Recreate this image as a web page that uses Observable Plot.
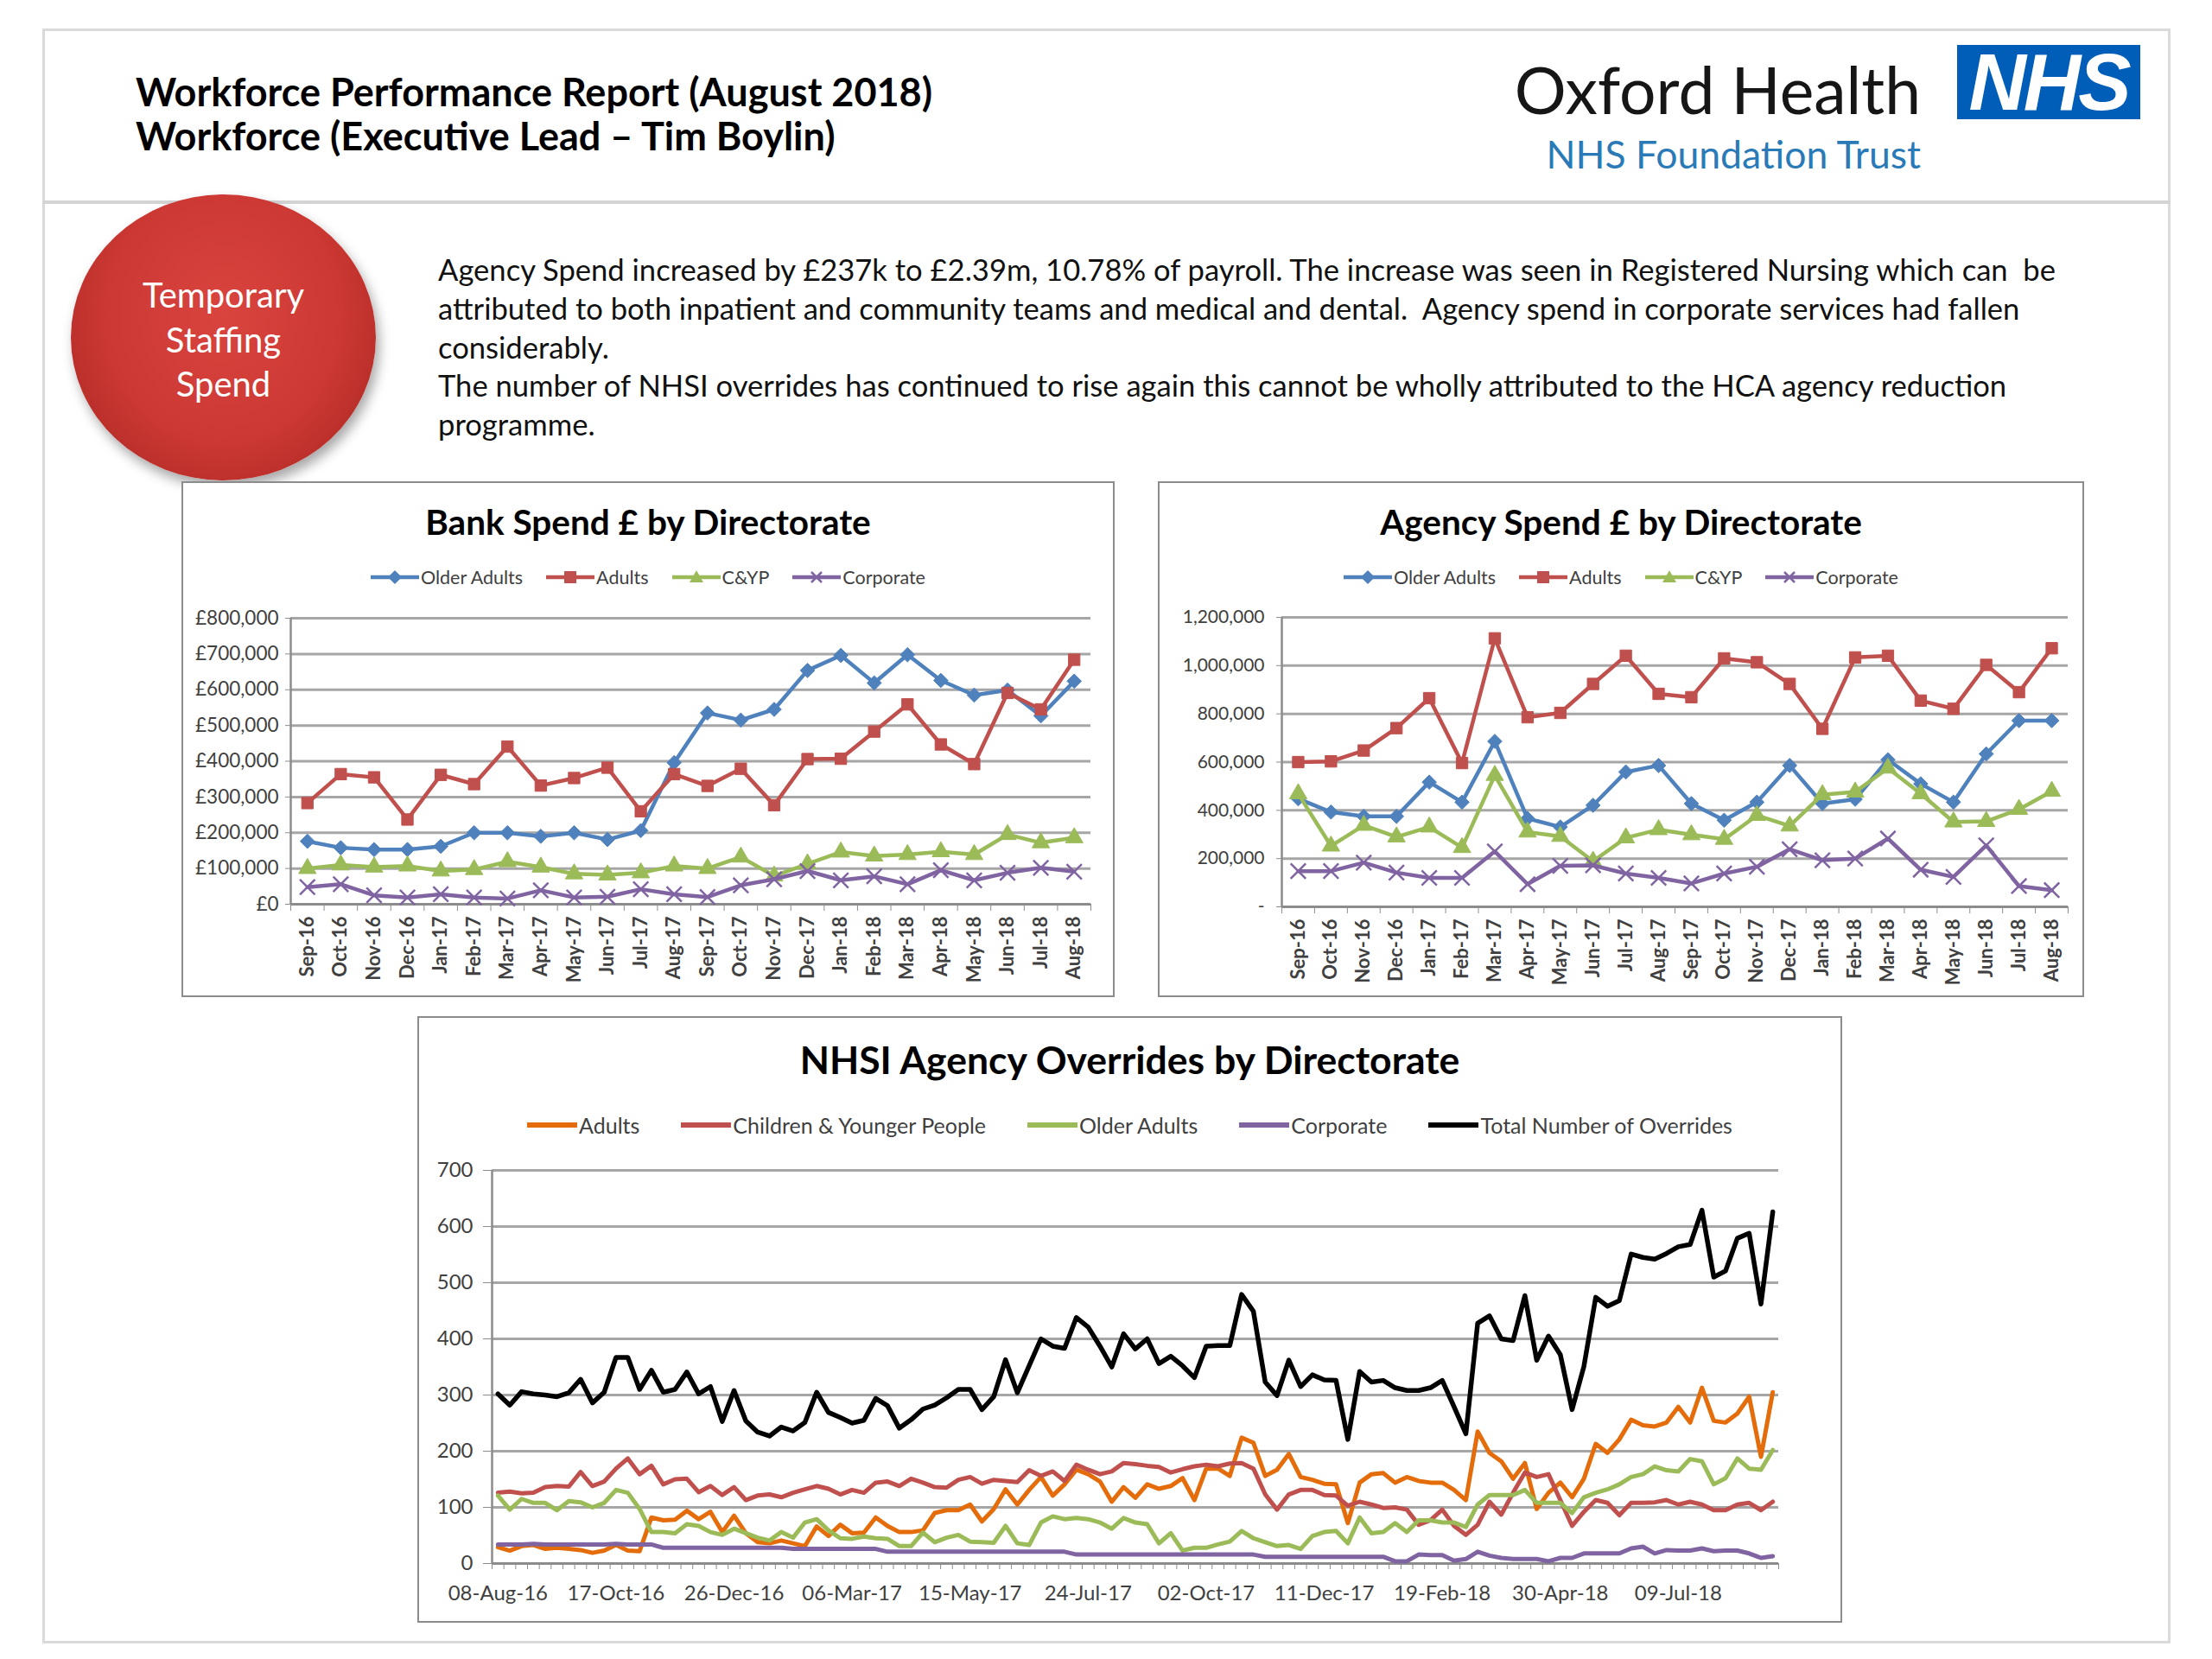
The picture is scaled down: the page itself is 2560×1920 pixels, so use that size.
<!DOCTYPE html>
<html>
<head>
<meta charset="utf-8">
<script src="https://cdn.jsdelivr.net/npm/d3@7"></script>
<script src="https://cdn.jsdelivr.net/npm/@observablehq/plot@0.6"></script>
<style>
  html, body { margin:0; padding:0; background:#fff; overflow:hidden; }
  #page { position:relative; width:2560px; height:1920px; font-family:Lato, "Open Sans", sans-serif; color:#111; }
  .abs { position:absolute; }
  .frame { left:49px; top:33px; width:2457px; height:1863px; border:3px solid #dadada; }
  .sep { left:49px; top:232px; width:2463px; height:4px; background:#d4d4d4; }
  .title { left:157px; font-size:45px; font-weight:700; line-height:50px; white-space:nowrap; color:#000; }
  .oxford { right:337px; top:55px; font-size:75px; line-height:96px; color:#161616; white-space:nowrap; }
  .nhsbox { left:2265px; top:52px; width:212px; height:86px; background:#005EB8; color:#fff; font-family:"Liberation Sans", Arial, sans-serif; font-weight:700; font-style:italic; font-size:92px; line-height:86px; text-align:center; letter-spacing:-3px; }
  .trust { right:337px; top:152px; font-size:44.5px; line-height:52px; color:#2a7ab8; white-space:nowrap; }
  .circle { left:82px; top:225px; width:353px; height:331px; border-radius:50%;
    background: radial-gradient(ellipse at 50% 42%, #d9443f 0%, #cc3833 55%, #b02a26 85%, #9c2420 100%);
    box-shadow: 4px 8px 14px rgba(0,0,0,0.35); }
  .circtext { left:82px; width:353px; top:316px; text-align:center; color:#fff; font-size:40px; line-height:51.5px; }
  .para { left:507px; top:290px; font-size:34.6px; line-height:44.8px; color:#111; white-space:pre; }
  .box { border:2px solid #8c8c8c; background:#fff; }
  .ctitle { text-align:center; font-weight:700; color:#000; white-space:nowrap; }
  .legend { display:flex; justify-content:center; align-items:center; white-space:nowrap; color:#404040; }
  .legend .item { display:flex; align-items:center; }
  .legend svg { display:block; }
</style>
</head>
<body>
<div id="page">
  <div class="abs frame"></div>
  <div class="abs sep"></div>
  <div class="abs title" style="top:81px">Workforce Performance Report (August 2018)</div>
  <div class="abs title" style="top:132px">Workforce (Executive Lead – Tim Boylin)</div>
  <div class="abs oxford">Oxford Health</div>
  <div class="abs nhsbox">NHS</div>
  <div class="abs trust">NHS Foundation Trust</div>
  <div class="abs circle"></div>
  <div class="abs circtext">Temporary<br>Staffing<br>Spend</div>
  <div class="abs para">Agency Spend increased by £237k to £2.39m, 10.78% of payroll. The increase was seen in Registered Nursing which can  be
attributed to both inpatient and community teams and medical and dental.  Agency spend in corporate services had fallen
considerably.
The number of NHSI overrides has continued to rise again this cannot be wholly attributed to the HCA agency reduction
programme.</div>

  <div class="abs box" style="left:210px;top:557px;width:1076px;height:593px"></div>
  <div class="abs box" style="left:1340px;top:557px;width:1068px;height:593px"></div>
  <div class="abs box" style="left:483px;top:1176px;width:1645px;height:698px"></div>

  <div class="abs ctitle" style="left:210px;width:1080px;top:580px;font-size:40.5px;line-height:48px">Bank Spend £ by Directorate</div>
  <div class="abs ctitle" style="left:1340px;width:1072px;top:580px;font-size:40.5px;line-height:48px">Agency Spend £ by Directorate</div>
  <div class="abs ctitle" style="left:483px;width:1649px;top:1200px;font-size:44.5px;line-height:52px">NHSI Agency Overrides by Directorate</div>

  <div id="bankLegend" class="abs legend" style="left:210px;width:1080px;top:653px;height:30px;font-size:21.5px"></div>
  <div id="agencyLegend" class="abs legend" style="left:1340px;width:1072px;top:653px;height:30px;font-size:21.5px"></div>
  <div id="nhsiLegend" class="abs legend" style="left:483px;width:1649px;top:1286px;height:32px;font-size:25px"></div>

  <div id="bankChart" class="abs" style="left:212px;top:697px"></div>
  <div id="agencyChart" class="abs" style="left:1347px;top:698px"></div>
  <div id="nhsiChart" class="abs" style="left:486px;top:1330px"></div>
</div>

<script>
// ---------- Monthly categories ----------
const months = ["Sep-16","Oct-16","Nov-16","Dec-16","Jan-17","Feb-17","Mar-17","Apr-17","May-17","Jun-17","Jul-17","Aug-17",
                "Sep-17","Oct-17","Nov-17","Dec-17","Jan-18","Feb-18","Mar-18","Apr-18","May-18","Jun-18","Jul-18","Aug-18"];

// ---------- Bank Spend £ by Directorate ----------
const bankOlder  = [176000,158000,153000,153000,162000,200000,200000,190000,200000,181000,206000,396000,535000,515000,545000,654000,696000,619000,698000,626000,585000,599000,527000,624000];
const bankAdults = [283000,364000,355000,237000,362000,336000,441000,332000,353000,382000,260000,364000,331000,379000,277000,406000,407000,483000,559000,447000,392000,591000,545000,684000];
const bankCYP    = [100000,110000,104000,107000,93000,97000,119000,104000,85000,82000,88000,107000,100000,132000,79000,113000,146000,135000,139000,147000,139000,195000,172000,186000];
const bankCorp   = [48000,56000,25000,19000,28000,19000,16000,39000,19000,21000,42000,28000,20000,53000,70000,93000,67000,78000,56000,95000,67000,88000,102000,91000];
const bankYTicks = [0,100000,200000,300000,400000,500000,600000,700000,800000];

// ---------- Agency Spend £ by Directorate ----------
const agencyOlder  = [448000,393000,375000,375000,517000,434000,686000,366000,331000,421000,559000,586000,428000,359000,434000,586000,428000,446000,610000,510000,434000,634000,772000,772000];
const agencyAdults = [600000,603000,648000,741000,865000,596000,1113000,786000,804000,924000,1041000,883000,869000,1030000,1014000,924000,738000,1034000,1041000,855000,821000,1003000,890000,1072000];
const agencyCYP    = [469000,252000,338000,290000,331000,246000,545000,310000,292000,189000,286000,320000,299000,280000,379000,335000,465000,476000,575000,469000,352000,354000,404000,479000];
const agencyCorp   = [148000,148000,183000,142000,120000,120000,230000,94000,170000,172000,138000,120000,97000,138000,166000,239000,193000,200000,283000,154000,124000,255000,86000,69000];
const agencyYTicks = [0,200000,400000,600000,800000,1000000,1200000];

// ---------- NHSI Agency Overrides by Directorate (weekly, from 08-Aug-16) ----------
const weekLabels = ["08-Aug-16","17-Oct-16","26-Dec-16","06-Mar-17","15-May-17","24-Jul-17","02-Oct-17","11-Dec-17","19-Feb-18","30-Apr-18","09-Jul-18"];
const nhsiAdults = [29,23,31,33,26,28,26,24,19,23,33,23,22,82,77,78,94,79,92,56,85,54,38,36,41,36,31,66,49,69,
  54,55,82,67,56,56,59,90,95,95,105,75,97,132,105,131,154,121,141,167,159,146,110,136,117,141,133,138,152,113,
  169,169,156,224,215,156,167,195,154,149,142,141,72,144,159,161,144,154,147,144,144,131,113,235,197,182,151,179,97,126,
  144,118,151,213,197,221,256,246,244,251,279,251,313,254,251,267,297,190,305];
const nhsiCYP = [126,128,125,126,136,138,137,163,138,146,169,187,159,174,141,150,151,127,138,122,136,113,121,123,118,126,132,138,133,123,
  131,126,144,146,138,151,144,136,135,149,154,142,149,147,145,166,156,164,147,176,167,159,164,179,177,174,172,162,168,173,
  176,173,178,179,169,123,96,123,131,131,122,121,103,110,105,99,100,96,69,77,96,67,51,69,110,87,126,162,154,159,
  113,67,92,113,108,86,108,108,109,113,105,110,105,95,95,105,108,95,110];
const nhsiOlder = [121,96,115,108,108,95,111,109,100,108,131,126,97,56,56,54,70,67,56,51,62,54,46,41,56,46,73,79,59,45,
  44,48,45,44,31,31,55,38,46,51,39,38,37,67,36,33,73,84,79,81,79,73,62,81,73,70,36,54,23,28,
  28,34,39,58,45,38,31,33,26,49,56,58,36,82,54,56,72,56,77,77,73,73,65,105,122,122,122,131,108,108,
  108,90,118,126,132,141,154,159,173,166,164,186,182,141,152,187,169,167,202];
const nhsiCorp = [34,34,34,35,34,34,34,34,34,34,35,34,34,34,28,28,28,28,28,28,28,28,28,28,28,26,26,26,26,26,
  26,26,26,21,21,21,21,21,21,21,21,21,21,21,21,21,21,21,21,16,16,16,16,16,16,16,16,16,16,16,
  16,16,16,16,16,12,12,12,12,12,12,12,12,12,12,12,4,4,16,15,15,5,8,21,14,10,8,8,8,4,
  10,10,18,18,18,18,27,30,18,24,23,23,27,22,23,23,18,10,13];
const nhsiTotal = [302,282,306,302,300,297,304,328,286,305,367,367,310,344,305,310,341,302,315,253,308,254,234,227,243,236,251,305,269,260,
  250,255,294,281,241,256,275,282,295,310,310,274,297,363,304,352,400,387,383,438,421,387,350,409,382,400,356,369,352,331,
  387,388,388,479,449,323,299,362,315,336,327,326,221,342,323,326,313,308,308,313,326,279,231,428,441,400,397,477,362,405,
  372,274,351,474,458,468,551,545,542,552,564,568,629,510,521,579,588,462,626];
const nhsiYTicks = [0,100,200,300,400,500,600,700];

// ---------- Series definitions ----------
const monthlyNames = ["Older Adults","Adults","C&YP","Corporate"];
const monthlyColors = ["#4F81BD","#C0504D","#9BBB59","#8064A2"];
const monthlySymbols = ["diamond2","square","triangle","times"];
const bankSeries = [bankOlder, bankAdults, bankCYP, bankCorp].map((values, k) =>
  ({name: monthlyNames[k], values, color: monthlyColors[k], symbol: monthlySymbols[k]}));
const agencySeries = [agencyOlder, agencyAdults, agencyCYP, agencyCorp].map((values, k) =>
  ({name: monthlyNames[k], values, color: monthlyColors[k], symbol: monthlySymbols[k]}));

const nhsiNames = ["Adults","Children & Younger People","Older Adults","Corporate","Total Number of Overrides"];
const nhsiColors = ["#E46C0A","#C0504D","#9BBB59","#8064A2","#000000"];
const nhsiSeries = [nhsiAdults, nhsiCYP, nhsiOlder, nhsiCorp, nhsiTotal].map((values, k) =>
  ({name: nhsiNames[k], values, color: nhsiColors[k]}));

const FONT = "Lato, 'Open Sans', sans-serif";
const GRID = "#a6a6a6";
const AXIS = "#8c8c8c";

function monthlyChart(series, yTicks, yFmt, dims) {
  const n = months.length;
  const idx = d3.range(n);
  const bounds = d3.range(n + 1).map(i => i - 0.5);
  return Plot.plot({
    width: dims.width, height: dims.height, marginLeft: dims.marginLeft, marginRight: dims.marginRight,
    marginTop: dims.marginTop, marginBottom: dims.marginBottom,
    style: {fontFamily: FONT, background: "transparent", color: "#404040", overflow: "visible"},
    x: {type: "linear", domain: [-0.5, n - 0.5], axis: null},
    y: {domain: [0, yTicks[yTicks.length - 1]], axis: null},
    marks: [
      Plot.gridY(yTicks.slice(1), {stroke: GRID, strokeOpacity: 1, strokeWidth: 3}),
      Plot.ruleY([0], {stroke: AXIS, strokeWidth: 3}),
      Plot.ruleX([-0.5], {stroke: AXIS, strokeWidth: 2.5}),
      Plot.axisY(yTicks, {tickSize: dims.yTickSize, tickPadding: dims.yTickPadding, tickFormat: yFmt, fontSize: dims.yFont, stroke: AXIS, fill: "#404040"}),
      Plot.axisX(bounds, {tickSize: 8, tickFormat: () => "", stroke: AXIS}),
      Plot.axisX(idx, {tickSize: 0, tickPadding: 14, tickRotate: -90, tickFormat: i => months[i], fontSize: 22, fontWeight: "bold", fill: "#404040"}),
      ...series.flatMap(s => [
        Plot.line(s.values, {x: (d, i) => i, y: d => d, stroke: s.color, strokeWidth: 4.5}),
        Plot.dot(s.values, {x: (d, i) => i, y: d => d, symbol: s.symbol, r: s.symbol === "times" ? 8 : 7.5,
          fill: s.symbol === "times" ? "none" : s.color, stroke: s.color, strokeWidth: s.symbol === "times" ? 2.5 : 1})
      ])
    ]
  });
}

const bankChart = monthlyChart(bankSeries, bankYTicks, d => "£" + d3.format(",")(d),
  {width: 1083, height: 459, marginLeft: 124, marginRight: 33, marginTop: 18, marginBottom: 110, yTickSize: 6, yTickPadding: 8, yFont: 22.5});
document.getElementById("bankChart").appendChild(bankChart);

const agencyChart = monthlyChart(agencySeries, agencyYTicks, d => d === 0 ? "-" : d3.format(",")(d),
  {width: 1077, height: 459, marginLeft: 136, marginRight: 31, marginTop: 16, marginBottom: 108, yTickSize: 6, yTickPadding: 14, yFont: 21});
document.getElementById("agencyChart").appendChild(agencyChart);

// ---------- NHSI chart ----------
const N = nhsiTotal.length;
const nhsiChart = Plot.plot({
  width: 1656, height: 554, marginLeft: 83, marginRight: 84, marginTop: 24, marginBottom: 75,
  style: {fontFamily: FONT, background: "transparent", color: "#404040", overflow: "visible"},
  x: {type: "linear", domain: [-0.5, N - 0.5], axis: null},
  y: {domain: [0, 700], axis: null},
  marks: [
    Plot.gridY(nhsiYTicks.slice(1), {stroke: GRID, strokeOpacity: 1, strokeWidth: 3}),
    Plot.ruleY([0], {stroke: AXIS, strokeWidth: 3}),
    Plot.ruleX([-0.5], {stroke: AXIS, strokeWidth: 2.5}),
    Plot.axisY(nhsiYTicks, {tickSize: 10, tickPadding: 12, fontSize: 24, stroke: AXIS, fill: "#404040"}),
    Plot.axisX(d3.range(N + 1).map(i => i - 0.5), {tickSize: 7, tickFormat: () => "", stroke: AXIS}),
    Plot.axisX(weekLabels.map((_, k) => k * 10), {tickSize: 0, tickPadding: 25, tickFormat: i => weekLabels[i / 10], fontSize: 24, fill: "#404040"}),
    ...nhsiSeries.map(s => Plot.line(s.values, {x: (d, i) => i, y: d => d, stroke: s.color, strokeWidth: s.name.startsWith("Total") ? 5.5 : 5}))
  ]
});
document.getElementById("nhsiChart").appendChild(nhsiChart);

// ---------- Legends ----------
const NS = "http://www.w3.org/2000/svg";
function markerSvg(color, symbol, w) {
  const svg = document.createElementNS(NS, "svg");
  svg.setAttribute("width", w); svg.setAttribute("height", 24);
  const line = document.createElementNS(NS, "line");
  line.setAttribute("x1", 0); line.setAttribute("x2", w); line.setAttribute("y1", 12); line.setAttribute("y2", 12);
  line.setAttribute("stroke", color); line.setAttribute("stroke-width", symbol ? 4.5 : 6);
  svg.appendChild(line);
  if (symbol) {
    const c = w / 2;
    let el;
    if (symbol === "diamond2") { el = document.createElementNS(NS, "polygon"); el.setAttribute("points", `${c},4 ${c+8},12 ${c},20 ${c-8},12`); el.setAttribute("fill", color); }
    else if (symbol === "square") { el = document.createElementNS(NS, "rect"); el.setAttribute("x", c-7); el.setAttribute("y", 5); el.setAttribute("width", 14); el.setAttribute("height", 14); el.setAttribute("fill", color); }
    else if (symbol === "triangle") { el = document.createElementNS(NS, "polygon"); el.setAttribute("points", `${c},4 ${c+8},18 ${c-8},18`); el.setAttribute("fill", color); }
    else { el = document.createElementNS(NS, "path"); el.setAttribute("d", `M${c-6},6L${c+6},18M${c+6},6L${c-6},18`); el.setAttribute("stroke", color); el.setAttribute("stroke-width", 2.5); el.setAttribute("fill", "none"); }
    svg.appendChild(el);
  }
  return svg;
}
function buildLegend(id, series, swatchW, gap, withSymbols) {
  const host = document.getElementById(id);
  host.style.gap = gap + "px";
  series.forEach(s => {
    const item = document.createElement("div");
    item.className = "item";
    item.appendChild(markerSvg(s.color, withSymbols ? s.symbol : null, swatchW));
    const t = document.createElement("span");
    t.textContent = s.name;
    t.style.marginLeft = "2px";
    item.appendChild(t);
    host.appendChild(item);
  });
}
buildLegend("bankLegend", bankSeries, 56, 27, true);
buildLegend("agencyLegend", agencySeries, 56, 27, true);
buildLegend("nhsiLegend", nhsiSeries, 58, 48, false);
</script>
</body>
</html>
